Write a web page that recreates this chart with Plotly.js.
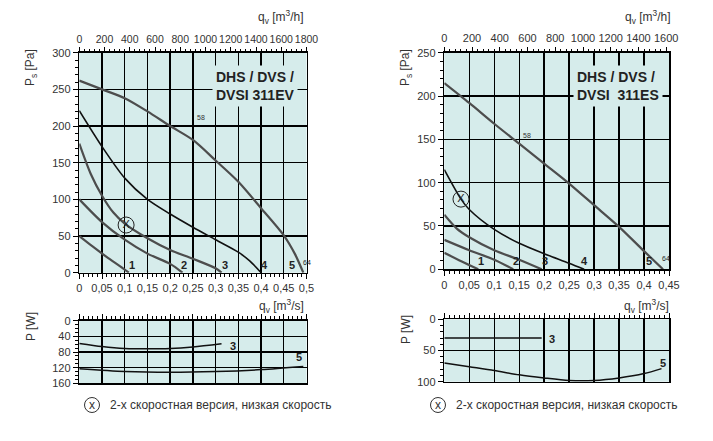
<!DOCTYPE html>
<html><head><meta charset="utf-8">
<script src="https://cdn.plot.ly/plotly-3.0.1.min.js"></script>
<style>html,body{margin:0;padding:0;background:#fff}#chart{width:713px;height:441px}</style>
</head><body><div id="chart"></div>
<script>
// ---------- LEFT: DHS / DVS / DVSI 311EV ----------
const L_q1 = [0, 0.03, 0.06, 0.09, 0.109];
const L_p1 = [50, 35.5, 21.5, 8.5, 0];
const L_q2 = [0, 0.05, 0.1, 0.15, 0.2, 0.227];
const L_p2 = [100, 69, 45, 26, 12, 0];
const L_q3 = [0, 0.025, 0.05, 0.075, 0.1, 0.15, 0.2, 0.25, 0.3, 0.313];
const L_p3 = [176, 135, 105, 82, 67, 47, 31, 19, 6, 0];
const L_q4 = [0, 0.05, 0.1, 0.15, 0.2, 0.25, 0.3, 0.35, 0.375, 0.4];
const L_p4 = [221, 172, 129, 100, 80, 62, 45, 28, 16, 0];
const L_q58 = [0, 0.05, 0.1, 0.15, 0.2, 0.25, 0.3, 0.35, 0.4, 0.45, 0.475, 0.493];
const L_p58 = [262, 250, 238, 220, 200, 181, 153, 124, 88, 51, 25, 0];
const L_pw3_q = [0, 0.05, 0.1, 0.15, 0.2, 0.25, 0.313];
const L_pw3_w = [58, 66, 71, 72, 71, 67, 59];
const L_pw5_q = [0, 0.1, 0.2, 0.3, 0.4, 0.493];
const L_pw5_w = [123, 130, 132, 130, 125, 117];
const L_markQ = [0.103], L_markP = [65];

// ---------- RIGHT: DHS / DVS / DVSI 311ES ----------
const R_q1 = [0, 0.035, 0.068];
const R_p1 = [19, 9, 0];
const R_q2 = [0, 0.05, 0.1, 0.138];
const R_p2 = [34, 22, 11, 0];
const R_q3 = [0, 0.025, 0.05, 0.1, 0.15, 0.195];
const R_p3 = [63, 47, 37, 22, 11, 0];
const R_q4 = [0, 0.0334, 0.05, 0.1, 0.15, 0.2, 0.25, 0.28];
const R_p4 = [115, 81, 69, 46, 30, 18, 7, 0];
const R_q58 = [0, 0.05, 0.1, 0.15, 0.2, 0.25, 0.3, 0.35, 0.4, 0.438];
const R_p58 = [215, 192, 168, 145, 122, 99, 74, 49, 21, 0];
const R_pw3_q = [0, 0.195];
const R_pw3_w = [30, 30];
const R_pw5_q = [0, 0.05, 0.1, 0.15, 0.2, 0.25, 0.3, 0.35, 0.4, 0.435];
const R_pw5_w = [70, 76, 82, 89, 94, 98, 98, 94, 87, 79];
const R_markQ = [0.0334], R_markP = [81];

// ---------- tick labels ----------
const L_qTickVals = [0, 0.05, 0.1, 0.15, 0.2, 0.25, 0.3, 0.35, 0.4, 0.45, 0.5];
const L_qTickText = ['0', '0,05', '0,1', '0,15', '0,2', '0,25', '0,3', '0,35', '0,4', '0,45', '0,5'];
const R_qTickVals = [0, 0.05, 0.1, 0.15, 0.2, 0.25, 0.3, 0.35, 0.4, 0.45];
const R_qTickText = ['0', '0,05', '0,1', '0,15', '0,2', '0,25', '0,3', '0,35', '0,4', '0,45'];
const legendText = '2-х скоростная версия, низкая скорость';

// ---------- styling ----------
const W = 713, H = 441;
const px = v => v / W;
const py = v => 1 - v / H;
const BG = '#d6eceb';
const GRAY = '#4d4d4d';
const FONT = 'Liberation Sans, Arial, sans-serif';

function ax(extra) {
  return Object.assign({
    showline: true, mirror: true, linecolor: '#000', linewidth: 1.5,
    showgrid: true, gridcolor: '#000', gridwidth: 1.4, zeroline: false,
    ticks: 'outside', ticklen: 5, tickwidth: 1, tickcolor: '#000', tickangle: 0,
    tickfont: {size: 11, color: '#333', family: FONT},
    fixedrange: true, autorange: false
  }, extra);
}
function minor(d) { return {dtick: d, ticklen: 3, tickwidth: 1, tickcolor: '#000', ticks: 'outside', showgrid: false}; }

function curve(q, p, xa, ya, color, width) {
  return {x: q, y: p, xaxis: xa, yaxis: ya, mode: 'lines', type: 'scatter',
    line: {color: color, width: width, shape: 'spline', smoothing: 0.8}, hoverinfo: 'skip', showlegend: false};
}
function mark(q, p, xa, ya) {
  return {x: q, y: p, xaxis: xa, yaxis: ya, mode: 'markers+text', type: 'scatter', text: ['X'],
    textposition: 'middle center', textfont: {size: 11, color: '#222', family: FONT},
    marker: {symbol: 'circle-open', size: 16, color: '#222', line: {width: 1, color: '#222'}},
    hoverinfo: 'skip', showlegend: false};
}

const traces = [
  curve(L_q1, L_p1, 'x', 'y', GRAY, 2.2),
  curve(L_q2, L_p2, 'x', 'y', GRAY, 2.2),
  curve(L_q3, L_p3, 'x', 'y', GRAY, 2.2),
  curve(L_q4, L_p4, 'x', 'y', '#111', 1.6),
  curve(L_q58, L_p58, 'x', 'y', GRAY, 2.2),
  mark(L_markQ, L_markP, 'x', 'y'),
  {x: [], y: [], xaxis: 'x2', yaxis: 'y', type: 'scatter', mode: 'lines', showlegend: false, hoverinfo: 'skip'},
  curve(L_pw3_q, L_pw3_w, 'x3', 'y3', '#111', 1.5),
  curve(L_pw5_q, L_pw5_w, 'x3', 'y3', '#111', 1.5),

  curve(R_q1, R_p1, 'x4', 'y4', GRAY, 2.2),
  curve(R_q2, R_p2, 'x4', 'y4', GRAY, 2.2),
  curve(R_q3, R_p3, 'x4', 'y4', GRAY, 2.2),
  curve(R_q4, R_p4, 'x4', 'y4', '#111', 1.6),
  curve(R_q58, R_p58, 'x4', 'y4', GRAY, 2.2),
  mark(R_markQ, R_markP, 'x4', 'y4'),
  {x: [], y: [], xaxis: 'x5', yaxis: 'y4', type: 'scatter', mode: 'lines', showlegend: false, hoverinfo: 'skip'},
  curve(R_pw3_q, R_pw3_w, 'x6', 'y6', '#111', 1.5),
  curve(R_pw5_q, R_pw5_w, 'x6', 'y6', '#111', 1.5)
];

const LX = [px(79.3), px(306.5)];
const RX = [px(444.3), px(669)];

const layout = {
  width: W, height: H, margin: {l: 0, r: 0, t: 0, b: 0},
  paper_bgcolor: '#fff', plot_bgcolor: BG, showlegend: false,
  font: {family: FONT, color: '#333'},
  xaxis: ax({domain: LX, anchor: 'y', range: [0, 0.5], tickmode: 'array', tickvals: L_qTickVals, ticktext: L_qTickText, minor: minor(0.01)}),
  xaxis2: ax({overlaying: 'x', anchor: 'y', side: 'top', range: [0, 1800], dtick: 200, tick0: 0, showgrid: false, showline: false, minor: minor(40),
    tickfont: {size: 10.5, color: '#333', family: FONT}}),
  yaxis: ax({domain: [py(272.7), py(52.7)], anchor: 'x', range: [0, 300], dtick: 50, tick0: 0, minor: minor(10)}),
  xaxis3: ax({domain: LX, anchor: 'y3', side: 'top', range: [0, 0.5], dtick: 0.05, tick0: 0, showticklabels: false, minor: minor(0.01)}),
  yaxis3: ax({domain: [py(383.3), py(320.7)], anchor: 'x3', range: [160, 0], dtick: 40, tick0: 0, minor: minor(10)}),

  xaxis4: ax({domain: RX, anchor: 'y4', range: [0, 0.45], tickmode: 'array', tickvals: R_qTickVals, ticktext: R_qTickText, minor: minor(0.01)}),
  xaxis5: ax({overlaying: 'x4', anchor: 'y4', side: 'top', range: [0, 1620], dtick: 200, tick0: 0, showgrid: false, showline: false, minor: minor(40)}),
  yaxis4: ax({domain: [py(269.3), py(52.7)], anchor: 'x4', range: [0, 250], dtick: 50, tick0: 0, minor: minor(10)}),
  xaxis6: ax({domain: RX, anchor: 'y6', side: 'top', range: [0, 0.45], dtick: 0.05, tick0: 0, showticklabels: false, minor: minor(0.01)}),
  yaxis6: ax({domain: [py(381.7), py(319.3)], anchor: 'x6', range: [100, 0], dtick: 50, tick0: 0, minor: minor(10)}),
  annotations: [],
  shapes: []
};

const A = layout.annotations;
function paperText(text, x, y, opts) {
  A.push(Object.assign({text: text, xref: 'paper', yref: 'paper', x: px(x), y: py(y), showarrow: false,
    xanchor: 'center', yanchor: 'middle', font: {size: 12, color: '#333', family: FONT}}, opts || {}));
}
// axis titles
paperText('P<sub>s</sub> [Pa]', 31, 68, {textangle: -90});
paperText('P [W]', 31, 327, {textangle: -90});
paperText('q<sub>v</sub> [m<sup>3</sup>/h]', 306, 17, {xanchor: 'right'});
paperText('q<sub>v</sub> [m<sup>3</sup>/s]', 306, 306, {xanchor: 'right'});
paperText('P<sub>s</sub> [Pa]', 406, 68, {textangle: -90});
paperText('P [W]', 406, 330, {textangle: -90});
paperText('q<sub>v</sub> [m<sup>3</sup>/h]', 673, 17, {xanchor: 'right'});
paperText('q<sub>v</sub> [m<sup>3</sup>/s]', 671, 306, {xanchor: 'right'});
// model titles
paperText('<b>DHS / DVS /<br>DVSI 311EV</b>', 212, 86, {xanchor: 'left', align: 'left', bgcolor: BG, borderpad: 3,
  font: {size: 14, color: '#222', family: FONT}});
paperText('<b>DHS / DVS /<br>DVSI  311ES</b>', 573, 86, {xanchor: 'left', align: 'left', bgcolor: BG, borderpad: 3,
  font: {size: 14, color: '#222', family: FONT}});
// legends
paperText('x', 92, 404.5, {font: {size: 12, color: '#333', family: FONT}});
paperText(legendText, 108, 405, {xanchor: 'left', font: {size: 12, color: '#333', family: FONT}});
paperText('x', 438, 404.5, {font: {size: 12, color: '#333', family: FONT}});
paperText(legendText, 454, 405, {xanchor: 'left', font: {size: 12, color: '#333', family: FONT}});
layout.shapes.push({type: 'circle', xref: 'paper', yref: 'paper', x0: px(84.5), x1: px(99.5), y0: py(412.5), y1: py(397.5), line: {color: '#333', width: 1}});
layout.shapes.push({type: 'circle', xref: 'paper', yref: 'paper', x0: px(430.5), x1: px(445.5), y0: py(412.5), y1: py(397.5), line: {color: '#333', width: 1}});

// curve number labels (anchored to curve ends)
function endLabel(q, p, xa, ya, text, dx, dy, size) {
  A.push({text: size ? text : '<b>' + text + '</b>', x: q[q.length - 1], y: p[p.length - 1], xref: xa, yref: ya, showarrow: false,
    xanchor: 'center', yanchor: 'bottom', xshift: dx, yshift: dy,
    font: {size: size || 11, color: '#222', family: FONT}});
}
endLabel(L_q1, L_p1, 'x', 'y', '1', 3, 0);
endLabel(L_q2, L_p2, 'x', 'y', '2', 2, 0);
endLabel(L_q3, L_p3, 'x', 'y', '3', 3, 0);
endLabel(L_q4, L_p4, 'x', 'y', '4', 3, 0);
endLabel(L_q58, L_p58, 'x', 'y', '5', -11, 0);
endLabel(L_q58, L_p58, 'x', 'y', '64', 4, 5, 7);
endLabel(R_q1, R_p1, 'x4', 'y4', '1', 3, 0);
endLabel(R_q2, R_p2, 'x4', 'y4', '2', 3, 0);
endLabel(R_q3, R_p3, 'x4', 'y4', '3', 3, 0);
endLabel(R_q4, R_p4, 'x4', 'y4', '4', 0, 0);
endLabel(R_q58, R_p58, 'x4', 'y4', '5', -14, 0);
endLabel(R_q58, R_p58, 'x4', 'y4', '64', 3, 5, 7);
// "58" tag on the top curve
A.push({text: '58', x: L_q58[5], y: L_p58[5], xref: 'x', yref: 'y', showarrow: false, xshift: 8, yshift: 22, font: {size: 7, color: '#333', family: FONT}});
A.push({text: '58', x: R_q58[3], y: R_p58[3], xref: 'x4', yref: 'y4', showarrow: false, xshift: 8, yshift: 8, font: {size: 7, color: '#333', family: FONT}});
// power curve labels
function pwLabel(q, w, xa, ya, text, dx, dy) {
  A.push({text: '<b>' + text + '</b>', x: q[q.length - 1], y: w[w.length - 1], xref: xa, yref: ya, showarrow: false,
    xanchor: 'center', yanchor: 'middle', xshift: dx, yshift: dy, font: {size: 11, color: '#222', family: FONT}});
}
pwLabel(L_pw3_q, L_pw3_w, 'x3', 'y3', '3', 11, -2);
pwLabel(L_pw5_q, L_pw5_w, 'x3', 'y3', '5', -4, 9);
pwLabel(R_pw3_q, R_pw3_w, 'x6', 'y6', '3', 10, -1);
pwLabel(R_pw5_q, R_pw5_w, 'x6', 'y6', '5', 1, 6);

Plotly.newPlot('chart', traces, layout, {staticPlot: true, displayModeBar: false});
</script></body></html>
